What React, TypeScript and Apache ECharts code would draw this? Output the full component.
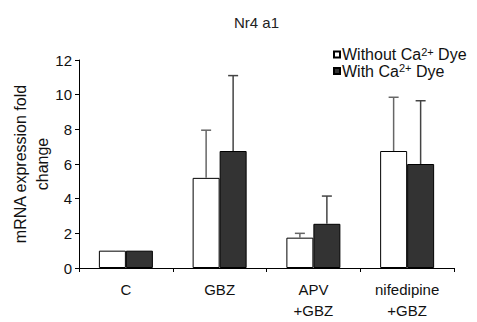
import React, { useEffect, useRef } from "react";
import * as echarts from "echarts";

const categories = ["C", "GBZ", "APV\n+GBZ", "nifedipine\n+GBZ"];
const withoutDye = [1.0, 5.2, 1.75, 6.75];
const withoutDyeErr = [0, 2.75, 0.25, 3.1];
const withDye = [1.0, 6.75, 2.55, 6.0];
const withDyeErr = [0, 4.35, 1.6, 3.65];
const yTicks = [0, 2, 4, 6, 8, 10, 12];

const FONT = "'Liberation Sans', Arial, sans-serif";
const BAR_W = 27;

function errorSeries(name: string, values: number[], errs: number[], offset: number, color: string) {
  return {
    type: "custom",
    name: name + " err",
    data: values.map((v, i) => [i, v, v + errs[i]]),
    z: 5,
    silent: true,
    renderItem: (params: any, api: any) => {
      const i = api.value(0);
      const lo = api.coord([i, api.value(1)]);
      const hi = api.coord([i, api.value(2)]);
      const x = lo[0] + offset;
      if (api.value(2) <= api.value(1)) return null;
      return {
        type: "group",
        children: [
          { type: "line", shape: { x1: x, y1: lo[1], x2: x, y2: hi[1] }, style: { stroke: color, lineWidth: 1.5 } },
          { type: "line", shape: { x1: x - 5, y1: hi[1], x2: x + 5, y2: hi[1] }, style: { stroke: color, lineWidth: 1.5 } },
        ],
      };
    },
  };
}

export default function App() {
  const ref = useRef<HTMLDivElement>(null);
  useEffect(() => {
    const chart = echarts.init(ref.current!, undefined, { renderer: "svg" });
    chart.setOption({
      animation: false,
      backgroundColor: "#fff",
      textStyle: { fontFamily: FONT },
      title: {
        text: "Nr4 a1",
        left: 229,
        top: 10,
        textStyle: { fontFamily: FONT, fontSize: 15, fontWeight: "normal", color: "#222" },
      },
      legend: {
        orient: "vertical",
        left: 328,
        top: 41,
        itemWidth: 6,
        itemHeight: 6,
        itemGap: 0,
        icon: "rect",
        data: ["Without Ca Dye", "With Ca Dye"],
        formatter: (n: string) => (n === "Without Ca Dye" ? "Without Ca{sup|2+} Dye" : "With Ca{sup|2+} Dye"),
        textStyle: {
          fontFamily: FONT,
          fontSize: 16,
          color: "#111",
          padding: [0, 0, 0, -3],
          rich: {
            sup: { fontSize: 11, fontFamily: FONT, color: "#111", padding: [0, 0, 6, 0] },
          },
        },
      },
      grid: { left: 79, right: 23, top: 60, bottom: 54, containLabel: false, outerBoundsMode: "none" },
      xAxis: {
        type: "category",
        data: categories,
        axisLine: { lineStyle: { color: "#000", width: 1 } },
        axisTick: { show: true, length: 4, lineStyle: { color: "#000" } },
        axisLabel: { color: "#111", fontSize: 15, fontFamily: FONT, margin: 11, lineHeight: 21 },
      },
      yAxis: {
        type: "value",
        min: 0,
        max: 12,
        interval: 2,
        name: "mRNA expression fold\nchange",
        nameLocation: "middle",
        nameGap: 26,
        nameMoveOverlap: false,
        nameRotate: 90,
        nameTextStyle: { fontSize: 16, fontFamily: FONT, color: "#111", lineHeight: 22, align: "center" },
        axisLine: { show: true, lineStyle: { color: "#000", width: 1 } },
        axisTick: { show: true, length: 4, lineStyle: { color: "#000" } },
        axisLabel: {
          color: "#111",
          fontSize: 15,
          fontFamily: FONT,
          margin: 7,
          formatter: (v: number) => (yTicks.includes(v) ? String(v) : ""),
        },
        splitLine: { show: false },
      },
      series: [
        {
          type: "bar",
          name: "Without Ca Dye",
          data: withoutDye,
          barWidth: BAR_W,
          barGap: "0%",
          itemStyle: { color: "#fff", borderColor: "#000", borderWidth: 1 },
        },
        {
          type: "bar",
          name: "With Ca Dye",
          data: withDye,
          barWidth: BAR_W,
          barGap: "0%",
          itemStyle: { color: "#333", borderColor: "#000", borderWidth: 1 },
        },
        errorSeries("Without Ca Dye", withoutDye, withoutDyeErr, -BAR_W / 2, "#666"),
        errorSeries("With Ca Dye", withDye, withDyeErr, BAR_W / 2, "#444"),
      ],
    });
    return () => chart.dispose();
  }, []);
  return (
    <div
      ref={ref}
      style={{ width: 477, height: 322, position: "absolute", left: 0, top: 0 }}
    />
  );
}
